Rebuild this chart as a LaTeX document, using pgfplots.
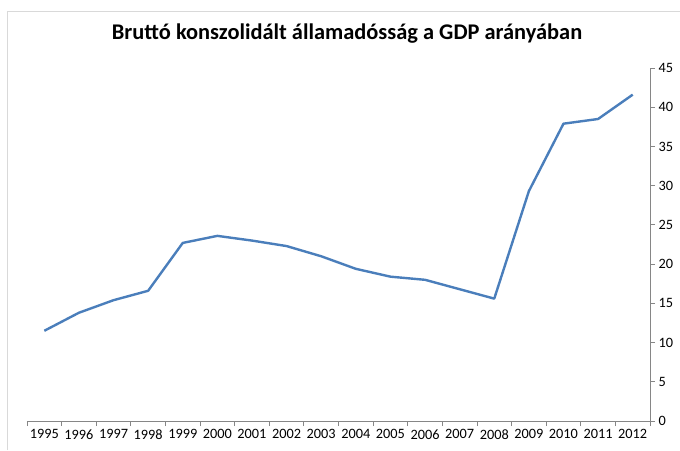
\documentclass[border=0pt]{standalone}
\usepackage{fontspec}
\setmainfont{Carlito}
\usepackage{pgfplots}
\pgfplotsset{compat=1.18}
\definecolor{lineblue}{HTML}{4A7EBB}
\definecolor{axisgray}{HTML}{868686}
\definecolor{framegray}{HTML}{D9D9D9}
\begin{document}
\begin{tikzpicture}[x=1pt,y=1pt]
\useasboundingbox (0,0) rectangle (680,450);
\draw[framegray, line width=1pt] (7,0) -- (7,438) -- (680,438);
\node[font=\fontsize{22.4}{26}\bfseries\selectfont] at (347,416) {Bruttó konszolidált államadósság a GDP arányában};
\begin{axis}[at={(27pt,29pt)}, anchor=south west, scale only axis,
  width=623pt, height=353pt,
  xmin=-0.5, xmax=17.5, ymin=0, ymax=45,
  axis x line*=bottom, axis y line*=right,
  axis line style={-, axisgray, line width=0.8pt},
  xtick={-0.5,0.5,1.5,2.5,3.5,4.5,5.5,6.5,7.5,8.5,9.5,10.5,11.5,12.5,13.5,14.5,15.5,16.5,17.5},
  x tick label as interval,
  xticklabels={1995,1996,1997,1998,1999,2000,2001,2002,2003,2004,2005,2006,2007,2008,2009,2010,2011,2012},
  ytick={0,5,...,45},
  tick align=outside, major tick length=5pt,
  tick style={axisgray, line width=0.8pt},
  tick label style={font=\fontsize{14.3}{16}\selectfont, text=black},
  /pgf/number format/assume math mode=true,
  clip=false]
\addplot[lineblue, line width=2.4pt, line join=round] coordinates {
(0,11.5) (1,13.8) (2,15.4) (3,16.6) (4,22.7) (5,23.6) (6,23.0) (7,22.3) (8,21.0)
(9,19.4) (10,18.4) (11,18.0) (12,16.8) (13,15.6) (14,29.3) (15,37.9) (16,38.5) (17,41.6)};
\end{axis}
\end{tikzpicture}
\end{document}
